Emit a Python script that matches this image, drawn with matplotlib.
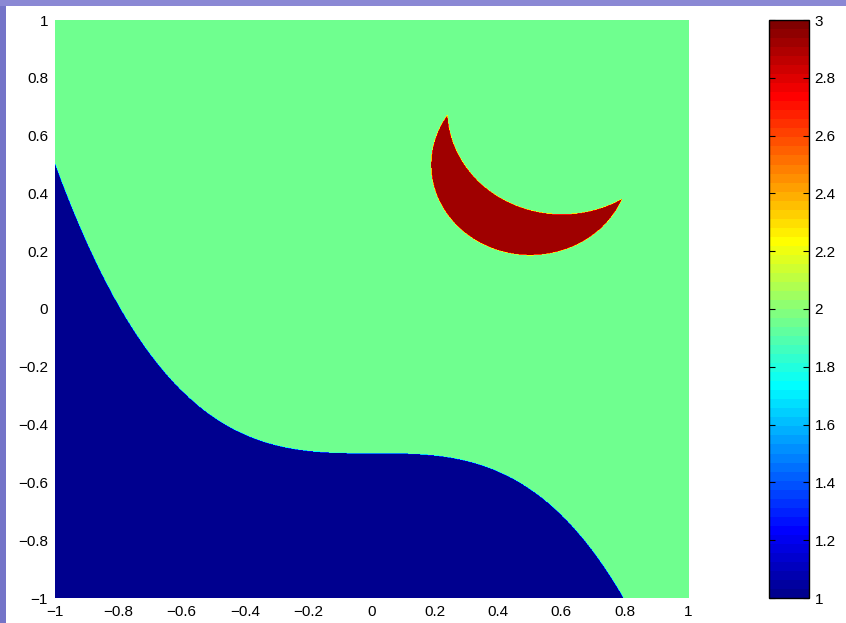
import numpy as np
import matplotlib
matplotlib.use('Agg')
import matplotlib.pyplot as plt
from matplotlib.patches import Rectangle
from matplotlib.colors import ListedColormap

# region values
val_low = 1.0      # below the cubic curve
val_mid = 1.95     # background
val_moon = 2.92    # crescent

# shape parameters
curve_offset = -0.5          # boundary: y = curve_offset - curve_k * x**3
curve_k = 1.0
outer_c, outer_r = (0.5, 0.5), 0.313
inner_c, inner_r = (0.60, 0.69), 0.362

xticks = [-1, -0.8, -0.6, -0.4, -0.2, 0, 0.2, 0.4, 0.6, 0.8, 1]
yticks = xticks
cticks = [1, 1.2, 1.4, 1.6, 1.8, 2, 2.2, 2.4, 2.6, 2.8, 3]


def matlab_jet(n=64):
    m = int(np.ceil(n / 4))
    u = np.concatenate([np.arange(1, m + 1) / m, np.ones(m - 1), np.arange(m, 0, -1) / m])
    g = int(np.ceil(m / 2)) - (n % 4 == 1) + np.arange(1, len(u) + 1)
    r = g + m
    b = g - m
    J = np.zeros((n, 3))
    J[r[r <= n] - 1, 0] = u[r <= n]
    J[g[g <= n] - 1, 1] = u[g <= n]
    J[b[b >= 1] - 1, 2] = u[b >= 1]
    return ListedColormap(J)


n = 1000
x = np.linspace(-1, 1, n)
y = np.linspace(-1, 1, n)
X, Y = np.meshgrid(x, y)
Z = np.full(X.shape, val_mid)
Z[Y < curve_offset - curve_k * X**3] = val_low
moon = (((X - outer_c[0])**2 + (Y - outer_c[1])**2) < outer_r**2) & \
       (((X - inner_c[0])**2 + (Y - inner_c[1])**2) > inner_r**2)
Z[moon] = val_moon

plt.rcParams['font.family'] = ['Liberation Sans', 'DejaVu Sans']
plt.rcParams['axes.unicode_minus'] = True

W, H = 846, 623
fig = plt.figure(figsize=(W / 100, H / 100), dpi=100)
fig.patch.set_facecolor('white')
# slide background strips on the left and top edges
fig.patches.append(Rectangle((0, 0), 6 / W, 1, transform=fig.transFigure,
                             facecolor='#7474c8', edgecolor='none'))
fig.patches.append(Rectangle((0, 1 - 6 / H), 1, 6 / H, transform=fig.transFigure,
                             facecolor='#8a88d4', edgecolor='none'))

cmap = matlab_jet(64)

ax = fig.add_axes([55 / W, 1 - 598 / H, (688 - 55) / W, (598 - 20) / H])
im = ax.imshow(Z, origin='lower', extent=[-1, 1, -1, 1], cmap=cmap,
               vmin=1, vmax=3, interpolation='antialiased',
               interpolation_stage='data', aspect='auto')
ax.set_xlim(-1, 1)
ax.set_ylim(-1, 1)
ax.set_xticks(xticks)
ax.set_yticks(yticks)
fmt = lambda v: ('%g' % v).replace('-', '\u2212')
ax.set_xticklabels([fmt(v) for v in xticks])
ax.set_yticklabels([fmt(v) for v in yticks])
ax.tick_params(axis='y', direction='in', length=0, labelsize=11, pad=5)
ax.tick_params(axis='x', direction='in', length=0, labelsize=11, pad=5)
for s in ax.spines.values():
    s.set_visible(False)

cax = fig.add_axes([769 / W, 1 - 598 / H, 40 / W, (598 - 20) / H])
cb = fig.colorbar(im, cax=cax, ticks=cticks)
cb.ax.set_yticklabels([fmt(v) for v in cticks])
cax.tick_params(direction='in', length=4, labelsize=11, pad=4, right=True, left=True)
cb.outline.set_linewidth(1.0)

fig.savefig('out.png', dpi=100, facecolor=fig.get_facecolor())
